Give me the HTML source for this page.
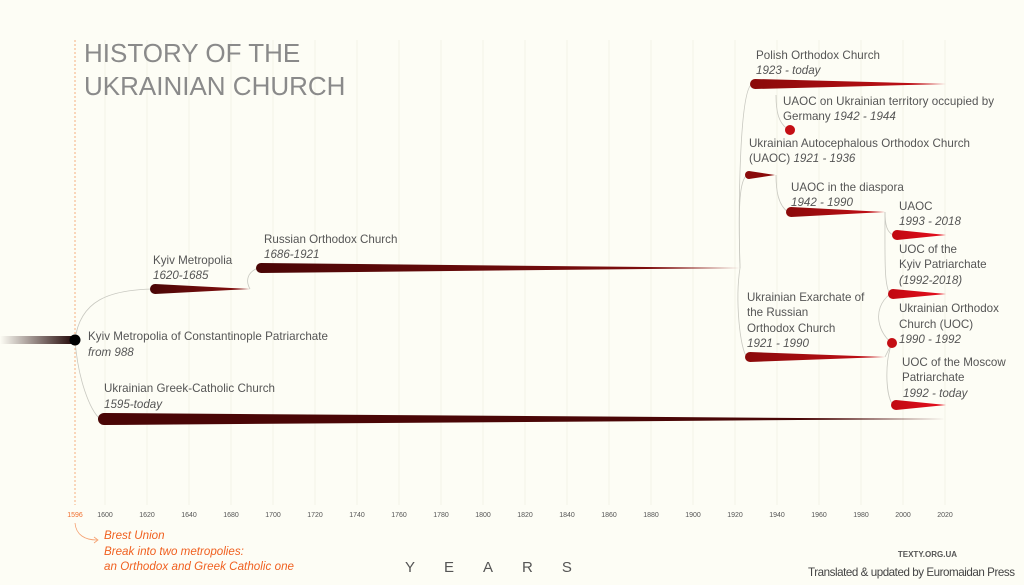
<!DOCTYPE html>
<html><head><meta charset="utf-8"><style>
body{margin:0;background:#fdfdf5;}
svg{display:block;font-family:"Liberation Sans",sans-serif;}
.t{font-size:11.6px;fill:#555;}
.i{font-size:11.6px;fill:#555;font-style:italic;}
.ax{font-size:7px;fill:#555;text-anchor:middle;}
</style></head><body>
<svg width="1024" height="585" viewBox="0 0 1024 585">
<defs>
<linearGradient id="lg" x1="0" x2="1"><stop offset="0" stop-color="#fdfdf5"/><stop offset="1" stop-color="#200404"/></linearGradient>
<linearGradient id="dk" x1="0" x2="1"><stop offset="0" stop-color="#4a0606"/><stop offset="1" stop-color="#8a1010"/></linearGradient>
<linearGradient id="rd" x1="0" x2="1"><stop offset="0" stop-color="#8a0a0a"/><stop offset="1" stop-color="#c81018"/></linearGradient>
<linearGradient id="br" x1="0" x2="1"><stop offset="0" stop-color="#c00810"/><stop offset="1" stop-color="#e81020"/></linearGradient>
</defs>
<g stroke="#f2f2e6" stroke-width="1">
<line x1="105" y1="40" x2="105" y2="505"/><line x1="147" y1="40" x2="147" y2="505"/><line x1="189" y1="40" x2="189" y2="505"/><line x1="231" y1="40" x2="231" y2="505"/><line x1="273" y1="40" x2="273" y2="505"/><line x1="315" y1="40" x2="315" y2="505"/><line x1="357" y1="40" x2="357" y2="505"/><line x1="399" y1="40" x2="399" y2="505"/><line x1="441" y1="40" x2="441" y2="505"/><line x1="483" y1="40" x2="483" y2="505"/><line x1="525" y1="40" x2="525" y2="505"/><line x1="567" y1="40" x2="567" y2="505"/><line x1="609" y1="40" x2="609" y2="505"/><line x1="651" y1="40" x2="651" y2="505"/><line x1="693" y1="40" x2="693" y2="505"/><line x1="735" y1="40" x2="735" y2="505"/><line x1="777" y1="40" x2="777" y2="505"/><line x1="819" y1="40" x2="819" y2="505"/><line x1="861" y1="40" x2="861" y2="505"/><line x1="903" y1="40" x2="903" y2="505"/><line x1="945" y1="40" x2="945" y2="505"/>
</g>
<line x1="75" y1="40" x2="75" y2="505" stroke="#f5b080" stroke-width="1" stroke-dasharray="2,2"/>
<text x="84" y="62" font-size="26" fill="#8a8a8a">HISTORY OF THE</text>
<text x="84" y="95" font-size="26" fill="#8a8a8a">UKRAINIAN CHURCH</text>
<g fill="none" stroke="#c8c8c0" stroke-width="0.8">
<path d="M75 340 C80 300 110 290 152 289"/>
<path d="M75 340 C78 380 90 410 100 419"/>
<path d="M250 289 C245 280 248 272 258 268"/>
<path d="M740 268 C738 200 740 90 752 84"/>
<path d="M740 268 C735 300 740 350 747 357"/>
<path d="M740 268 C738 200 740 180 747 175"/>
<path d="M776 95 C776 110 778 125 790 130"/>
<path d="M776 175 C776 190 778 205 788 212"/>
<path d="M885 212 C885 225 887 232 893 235"/>
<path d="M885 212 C885 260 884 285 890 294"/>
<path d="M890 294 C870 310 880 335 892 343"/>
<path d="M885 357 L892 343"/>
<path d="M892 343 C885 360 885 395 893 405"/>
</g>
<rect x="0" y="336" width="75" height="8" fill="url(#lg)"/>
<circle cx="75" cy="340" r="5.5" fill="#000"/>
<path d="M155 284 L250 289 L155 294 A5 5 0 0 1 155 284Z" fill="url(#dk)"/>
<path d="M261 263 L740 268 L261 273 A5 5 0 0 1 261 263Z" fill="url(#dk)"/>
<path d="M104 413 L946 419 L104 425 A6 6 0 0 1 104 413Z" fill="#4a0606"/>
<path d="M755 79 L946 84 L755 89 A5 5 0 0 1 755 79Z" fill="url(#rd)"/>
<path d="M749 171 L775 175 L749 179 A4 4 0 0 1 749 171Z" fill="#8a0a0a"/>
<circle cx="790" cy="130" r="5" fill="#c40e14"/>
<path d="M791 207 L885 212 L791 217 A5 5 0 0 1 791 207Z" fill="url(#rd)"/>
<path d="M897 230 L946 235 L897 240 A5 5 0 0 1 897 230Z" fill="url(#br)"/>
<path d="M893 289 L946 294 L893 299 A5 5 0 0 1 893 289Z" fill="url(#br)"/>
<circle cx="892" cy="343" r="5" fill="#c40e14"/>
<path d="M750 352 L885 357 L750 362 A5 5 0 0 1 750 352Z" fill="url(#rd)"/>
<path d="M896 400 L946 405 L896 410 A5 5 0 0 1 896 400Z" fill="url(#br)"/>
<text class="t" x="153" y="264">Kyiv Metropolia</text><text class="i" x="153" y="279">1620-1685</text>
<text class="t" x="264" y="243">Russian Orthodox Church</text><text class="i" x="264" y="258">1686-1921</text>
<text class="t" x="88" y="340" textLength="240">Kyiv Metropolia of Constantinople Patriarchate</text><text class="i" x="88" y="356">from 988</text>
<text class="t" x="104" y="392" textLength="171">Ukrainian Greek-Catholic Church</text><text class="i" x="104" y="408">1595-today</text>
<text class="t" x="756" y="59" textLength="124">Polish Orthodox Church</text><text class="i" x="756" y="74">1923 - today</text>
<text class="t" x="783" y="105" textLength="211">UAOC on Ukrainian territory occupied by</text><text class="t" x="783" y="120">Germany <tspan font-style="italic">1942 - 1944</tspan></text>
<text class="t" x="749" y="147" textLength="221">Ukrainian Autocephalous Orthodox Church</text><text class="t" x="749" y="162">(UAOC) <tspan font-style="italic">1921 - 1936</tspan></text>
<text class="t" x="791" y="191">UAOC in the diaspora</text><text class="i" x="791" y="206">1942 - 1990</text>
<text class="t" x="899" y="210">UAOC</text><text class="i" x="899" y="225">1993 - 2018</text>
<text class="t" x="899" y="253">UOC of the</text><text class="t" x="899" y="268">Kyiv Patriarchate</text><text class="i" x="899" y="284">(1992-2018)</text>
<text class="t" x="747" y="301">Ukrainian Exarchate of</text><text class="t" x="747" y="316">the Russian</text><text class="t" x="747" y="332">Orthodox Church</text><text class="i" x="747" y="347">1921 - 1990</text>
<text class="t" x="899" y="312">Ukrainian Orthodox</text><text class="t" x="899" y="328">Church (UOC)</text><text class="i" x="899" y="343">1990 - 1992</text>
<text class="t" x="902" y="366">UOC of the Moscow</text><text class="t" x="902" y="381">Patriarchate</text><text class="i" x="903" y="397">1992 - today</text>
<text class="ax" x="75" y="517" style="fill:#f07030">1596</text>
<text class="ax" x="105" y="517">1600</text><text class="ax" x="147" y="517">1620</text><text class="ax" x="189" y="517">1640</text><text class="ax" x="231" y="517">1680</text><text class="ax" x="273" y="517">1700</text><text class="ax" x="315" y="517">1720</text><text class="ax" x="357" y="517">1740</text><text class="ax" x="399" y="517">1760</text><text class="ax" x="441" y="517">1780</text><text class="ax" x="483" y="517">1800</text><text class="ax" x="525" y="517">1820</text><text class="ax" x="567" y="517">1840</text><text class="ax" x="609" y="517">1860</text><text class="ax" x="651" y="517">1880</text><text class="ax" x="693" y="517">1900</text><text class="ax" x="735" y="517">1920</text><text class="ax" x="777" y="517">1940</text><text class="ax" x="819" y="517">1960</text><text class="ax" x="861" y="517">1980</text><text class="ax" x="903" y="517">2000</text><text class="ax" x="945" y="517">2020</text>
<path d="M75 523 C76 535 85 540 97 540" fill="none" stroke="#f5a070" stroke-width="0.8"/>
<path d="M94 537 L98 540 L94 543" fill="none" stroke="#f5a070" stroke-width="0.8"/>
<g font-size="11.6" font-style="italic" fill="#f06020">
<text x="104" y="539">Brest Union</text><text x="104" y="555">Break into two metropolies:</text><text x="104" y="570" textLength="190">an Orthodox and Greek Catholic one</text>
</g>
<text x="405" y="572" font-size="15" fill="#555" letter-spacing="29">YEARS</text>
<text x="957" y="557" font-size="8" font-weight="bold" fill="#555" text-anchor="end">TEXTY.ORG.UA</text>
<text x="1015" y="576" font-size="11.6" fill="#444" text-anchor="end" textLength="207">Translated &amp; updated by Euromaidan Press</text>
</svg>
</body></html>
